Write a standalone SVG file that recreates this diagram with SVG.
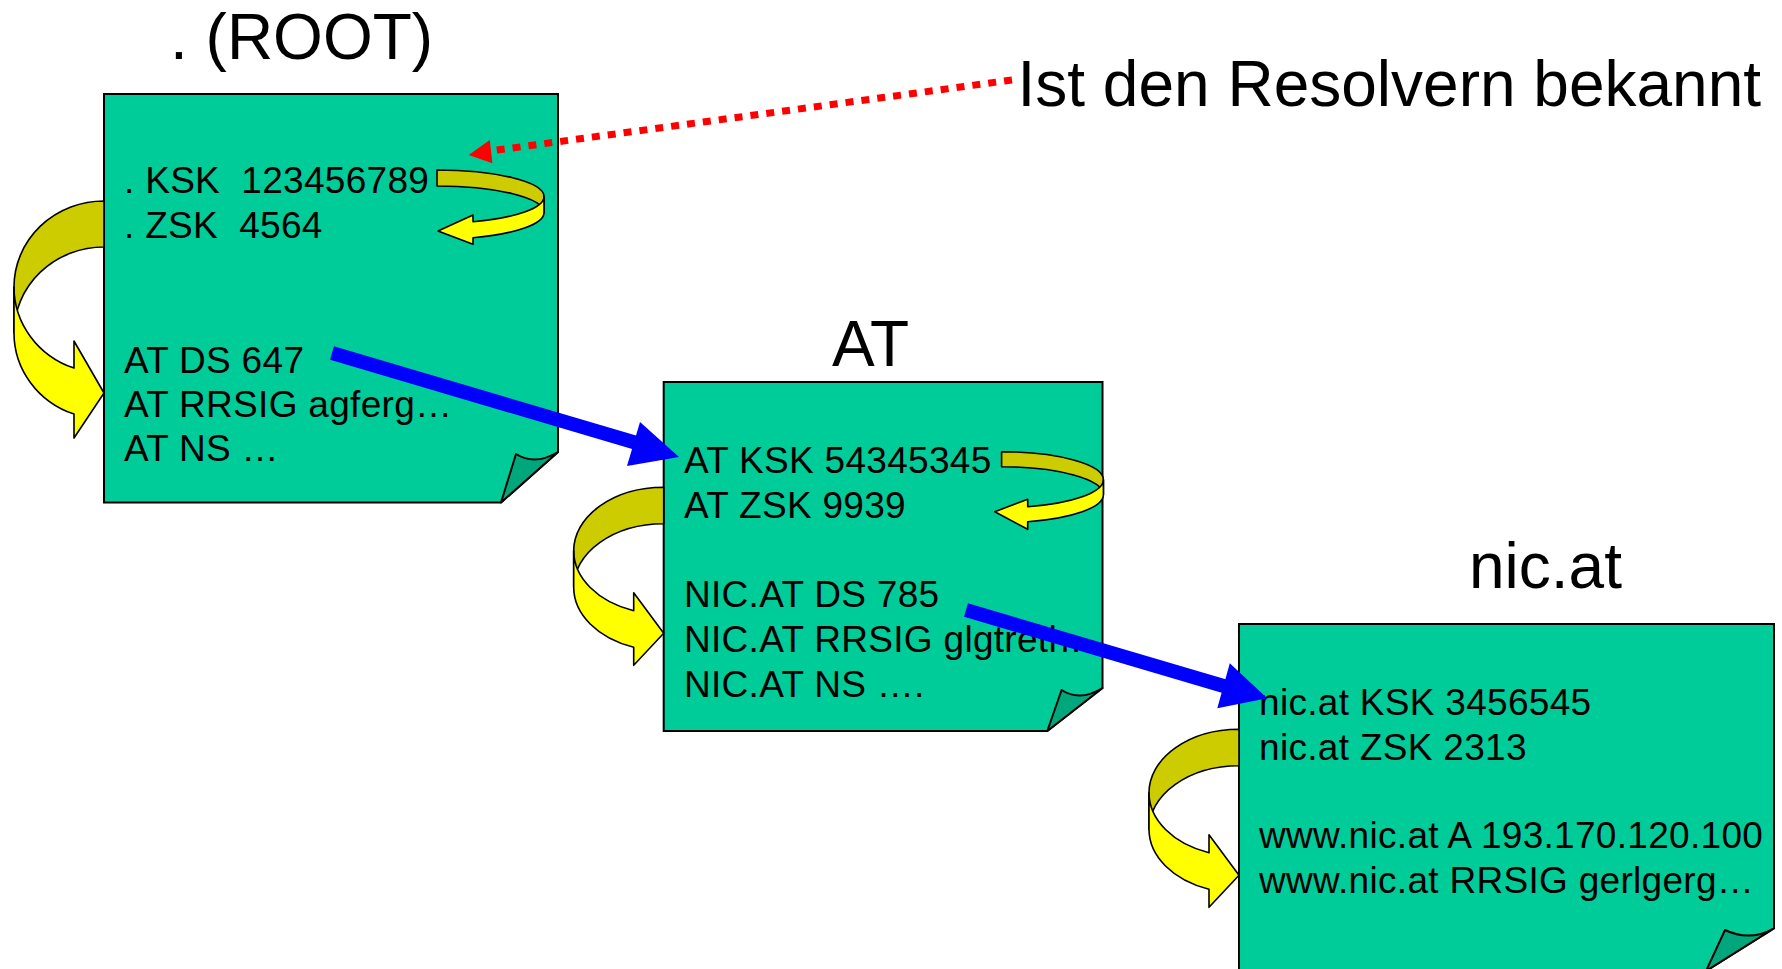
<svg xmlns="http://www.w3.org/2000/svg" width="1782" height="969" viewBox="0 0 1782 969">
<style>
.box{fill:#00CC99;stroke:#000;stroke-width:2}
.flap{fill:#00A67C;stroke:#000;stroke-width:2;stroke-linejoin:round}
.title{font-family:"Liberation Sans",Arial,sans-serif;font-size:64px;fill:#000}
.line{font-family:"Liberation Sans",Arial,sans-serif;font-size:37px;letter-spacing:0.3px;fill:#000;white-space:pre}
.back{fill:#CCCC00;stroke:#000;stroke-width:1.6;stroke-linejoin:round}
.front{fill:#FFFF00;stroke:#000;stroke-width:1.6;stroke-linejoin:round}
.blue{stroke:#0000FF;stroke-width:14;fill:none}
.bluehead{fill:#0000FF}
.red{stroke:#FF0000;stroke-width:7;fill:none;stroke-dasharray:8 8}
</style>
<defs>
<g id="loopSmall">
<path class="back" d="M0,0 A90 63.5 0 0 0 -90,63.5 L-90,100 A90 63.5 0 0 1 0,36.5 Z"/>
<path class="front" d="M-90,63.5 A90 63.5 0 0 0 -30,123.4 L-30,105.5 L0,146 L-30,178 L-30,159.9 A90 63.5 0 0 1 -90,100 Z"/>
</g>
</defs>
<rect width="1782" height="969" fill="#fff"/>

<g id="node-root">
<polygon class="box" points="104,94 558,94 558,452 501,502.5 104,502.5"/>
<path class="flap" d="M516,454 Q535,466 558,452 L501,502.5 Z"/>
<text class="title" x="170" y="59">. (ROOT)</text>
<text class="line" x="124" y="193">. KSK  123456789</text>
<text class="line" x="124" y="238">. ZSK  4564</text>
<text class="line" x="124" y="373">AT DS 647</text>
<text class="line" x="124" y="417">AT RRSIG agferg…</text>
<text class="line" x="124" y="461">AT NS …</text>
</g>

<g id="node-at">
<polygon class="box" points="663.7,382 1102.5,382 1102.5,688 1047.3,731 663.7,731"/>
<path class="flap" d="M1061.6,690 Q1080,702 1102.5,688 L1047.3,731 Z"/>
<text class="title" x="832" y="366">AT</text>
<text class="line" x="684" y="473">AT KSK 54345345</text>
<text class="line" x="684" y="518">AT ZSK 9939</text>
<text class="line" x="684" y="607">NIC.AT DS 785</text>
<text class="line" x="684" y="652">NIC.AT RRSIG glgtreth…</text>
<text class="line" x="684" y="697">NIC.AT NS ….</text>
</g>

<g id="node-nicat">
<polygon class="box" points="1239,624 1774,624 1774,928.3 1706,971 1239,971"/>
<path class="flap" d="M1725,930 Q1750,942 1774,928.3 L1706,971 Z"/>
<text class="title" x="1469" y="588">nic.at</text>
<text class="line" x="1259" y="715">nic.at KSK 3456545</text>
<text class="line" x="1259" y="760">nic.at ZSK 2313</text>
<text class="line" x="1259" y="848">www.nic.at A 193.170.120.100</text>
<text class="line" x="1259" y="893">www.nic.at RRSIG gerlgerg…</text>
</g>

<g id="label-resolver">
<text class="title" x="1017.5" y="106">Ist den Resolvern bekannt</text>
</g>

<g id="connectors">
<path class="back" d="M437,170 A107 26.6 0 0 1 544,196.6 L544,212.6 A107 26.6 0 0 0 437,186 Z"/>
<path class="front" d="M544,196.6 A107 26.6 0 0 1 473,221.7 L473,215 L438,231 L473,244.3 L473,237.7 A107 26.6 0 0 0 544,212.6 Z"/>
<path class="back" d="M104,201 A90 86 0 0 0 14,287 L14,333 A90 86 0 0 1 104,247 Z"/>
<path class="front" d="M14,287 A90 86 0 0 0 74,368.1 L74,341 L104,393 L74,438 L74,414.1 A90 86 0 0 1 14,333 Z"/>
<path class="back" d="M1001.6,451.7 A101.8 28 0 0 1 1103.4,479.7 L1103.4,494.7 A101.8 28 0 0 0 1001.6,466.7 Z"/>
<path class="front" d="M1103.4,479.7 A101.8 28 0 0 1 1027.7,506.7 L1027.7,499.3 L994.8,511.7 L1027.7,529.3 L1027.7,521.7 A101.8 28 0 0 0 1103.4,494.7 Z"/>
<use href="#loopSmall" x="663.7" y="487.3"/>
<use href="#loopSmall" x="1239" y="729.3"/>
<line class="blue" x1="332" y1="353" x2="640" y2="444"/>
<polygon class="bluehead" points="679,457 640,422 627,466"/>
<line class="blue" x1="966" y1="610" x2="1227" y2="687"/>
<polygon class="bluehead" points="1267.2,698.3 1229.8,663.3 1217.3,708.3"/>
<line class="red" x1="1012" y1="80" x2="490" y2="151"/>
<polygon fill="#FF0000" points="468.7,155 489.8,140 492.4,163.3"/>
</g>
</svg>
